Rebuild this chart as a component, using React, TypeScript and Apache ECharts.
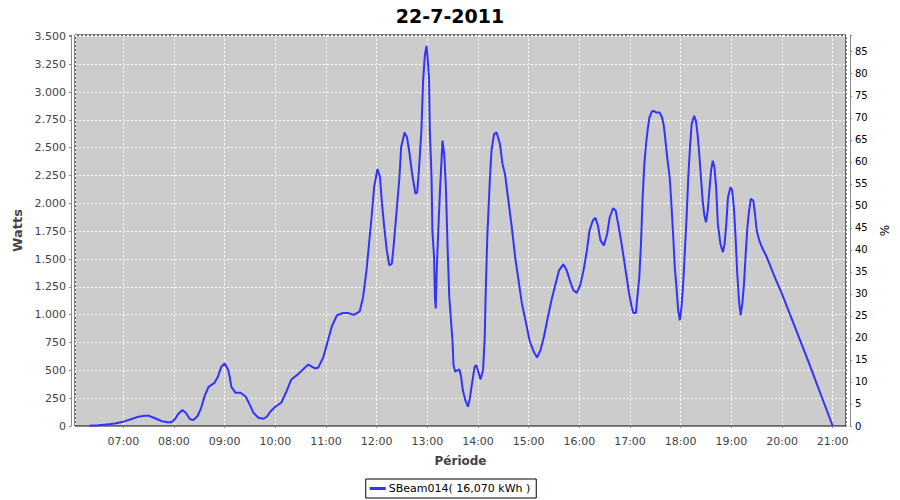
import React, { useEffect, useRef } from "react";
import * as echarts from "echarts";

const title = "22-7-2011";
const seriesName = "SBeam014( 16,070 kWh )";

const times: string[] = [
  "06:20","06:30","06:38","06:45","06:50","07:00","07:10","07:18","07:25","07:30",
  "07:37","07:45","07:52","07:57","08:01","08:05","08:10","08:14","08:19","08:23",
  "08:28","08:32","08:36","08:41","08:48","08:52","08:56","09:00","09:04","09:06",
  "09:08","09:13","09:19","09:25","09:29","09:34","09:40","09:46","09:50","09:54",
  "10:00","10:07","10:13","10:19","10:27","10:33","10:39","10:47","10:51","10:57",
  "11:03","11:07","11:13","11:20","11:26","11:33","11:40","11:44","11:48","11:51",
  "11:54","11:57","12:01","12:04","12:06","12:09","12:12","12:15","12:18","12:20",
  "12:23","12:27","12:29","12:33","12:36","12:39","12:42","12:46","12:48","12:50",
  "12:53","12:55","12:57","12:59","13:00","13:02","13:03","13:05","13:06","13:08",
  "13:09","13:10","13:11","13:13","13:15","13:17","13:18","13:20","13:22","13:24",
  "13:26","13:28","13:30","13:31","13:33","13:36","13:38","13:40","13:42","13:45",
  "13:48","13:50","13:53","13:56","13:58","14:01","14:03","14:06","14:08","14:09",
  "14:11","14:14","14:16","14:19","14:22","14:26","14:29","14:32","14:36","14:40",
  "14:44","14:48","14:52","14:57","15:01","15:06","15:10","15:14","15:18","15:22",
  "15:27","15:32","15:36","15:41","15:45","15:49","15:53","15:57","16:01","16:05",
  "16:09","16:12","16:16","16:19","16:22","16:25","16:29","16:33","16:36","16:40",
  "16:43","16:46","16:50","16:53","16:56","16:59","17:02","17:04","17:07","17:08",
  "17:11","17:13","17:15","17:17","17:19","17:21","17:23","17:26","17:28","17:31",
  "17:35","17:38","17:40","17:42","17:44","17:47","17:49","17:51","17:53","17:55",
  "17:57","17:59","18:01","18:03","18:05","18:07","18:09","18:11","18:13","18:16",
  "18:18","18:20","18:22","18:24","18:26","18:28","18:30","18:32","18:34","18:36",
  "18:38","18:40","18:42","18:44","18:47","18:50","18:52","18:54","18:56","18:59",
  "19:01","19:03","19:05","19:07","19:09","19:11","19:13","19:15","19:17","19:19",
  "19:21","19:23","19:26","19:28","19:30","19:33","19:37","19:41","19:45","19:49",
  "19:53","19:59","20:30","21:00"
];

const watts: number[] = [
  3,6,12,17,22,39,63,84,92,92,
  72,45,33,33,60,107,143,119,60,54,
  90,158,263,352,388,442,531,562,508,442,
  352,298,298,263,203,120,74,65,83,128,
  173,209,307,418,466,510,552,517,526,621,
  786,896,995,1015,1015,998,1030,1159,1398,1637,
  1875,2144,2309,2234,2025,1786,1577,1443,1458,1607,
  1875,2234,2503,2637,2592,2443,2264,2085,2099,2294,
  2652,3100,3324,3414,3339,3130,2652,2234,1756,1517,
  1159,1055,1368,1756,2115,2413,2563,2443,2144,1607,
  1159,950,741,547,487,502,508,442,323,233,
  173,233,383,531,547,472,418,502,800,1159,
  1696,2204,2473,2622,2637,2533,2354,2264,2025,1786,
  1517,1308,1099,920,770,666,615,681,800,950,
  1129,1279,1398,1452,1398,1302,1219,1195,1264,1398,
  1577,1756,1846,1870,1801,1667,1622,1727,1875,1956,
  1935,1816,1637,1487,1338,1189,1069,1015,1015,1099,
  1338,1637,2054,2354,2533,2667,2771,2825,2831,2816,
  2816,2771,2697,2563,2413,2234,1995,1727,1427,1248,
  1039,950,1069,1279,1577,1875,2234,2503,2712,2787,
  2742,2622,2443,2234,2025,1891,1830,1935,2115,2294,
  2383,2323,2144,1816,1637,1562,1637,1816,2054,2144,
  2115,1965,1696,1368,1129,995,1099,1279,1547,1786,
  1935,2040,2025,1906,1756,1667,1592,1532,1458,1383,
  1308,1204,602,0
];

const wattsMax = 3512;
const wattsStep = 250;
const pctMax = 88.8;
const pctStep = 5;

function ts(hm: string, sec = 0): number {
  const [h, m] = hm.split(":").map(Number);
  return Date.UTC(2011, 6, 22, h, m, sec);
}

function fmtThousands(v: number): string {
  return String(Math.round(v)).replace(/\B(?=(\d{3})+(?!\d))/g, ".");
}

function pad(n: number) {
  return n < 10 ? "0" + n : String(n);
}

export default function App() {
  const ref = useRef<HTMLDivElement>(null);
  useEffect(() => {
    if (!ref.current) return;
    const chart = echarts.init(ref.current, undefined, { renderer: "svg" });
    const font = "DejaVu Sans";
    const data = times.map((t, i) => [ts(t), watts[i]]);
    chart.setOption({
      animation: false,
      useUTC: true,
      backgroundColor: "#ffffff",
      title: {
        text: title,
        left: "center",
        top: 6,
        padding: 0,
        textStyle: { fontFamily: font, fontSize: 19, fontWeight: "bold", color: "#000" },
      },
      legend: {
        data: [seriesName],
        bottom: 2,
        left: "center",
        borderColor: "#000",
        borderWidth: 1,
        padding: [4, 6, 4, 4],
        itemWidth: 16,
        itemHeight: 3,
        itemGap: 4,
        icon: "rect",
        textStyle: { fontFamily: font, fontSize: 11, color: "#000", padding: [0, 0, 0, -2] },
      },
      grid: {
        left: 75,
        right: 54,
        top: 35,
        bottom: 74,
        show: true,
        backgroundColor: "#cccccc",
        borderColor: "#000",
        borderWidth: 1,
        containLabel: false,
      },
      xAxis: {
        type: "time",
        min: ts("06:02", 50),
        max: ts("21:15", 45),
        minInterval: 3600 * 1000,
        maxInterval: 3600 * 1000,
        offset: 4,
        name: "Période",
        nameLocation: "middle",
        nameGap: 25,
        nameTextStyle: { fontFamily: font, fontSize: 12, fontWeight: "bold", color: "#444" },
        axisLine: { show: true, lineStyle: { color: "#888", width: 1 } },
        axisTick: { show: true, length: 2, lineStyle: { color: "#888" } },
        axisLabel: {
          fontFamily: font,
          fontSize: 11,
          color: "#444",
          margin: 6,
          showMinLabel: false,
          showMaxLabel: false,
          formatter: (v: number) => {
            const d = new Date(v);
            if (d.getUTCMinutes() !== 0 || d.getUTCSeconds() !== 0) return "";
            return pad(d.getUTCHours()) + ":" + pad(d.getUTCMinutes());
          },
        },
        splitLine: { show: true, lineStyle: { color: "#ffffff", type: [2, 2], width: 1 } },
      },
      yAxis: [
        {
          type: "value",
          min: 0,
          max: wattsMax,
          interval: wattsStep,
          offset: 4,
          name: "Watts",
          nameLocation: "middle",
          nameGap: 44,
          nameTextStyle: { fontFamily: font, fontSize: 13, fontWeight: "bold", color: "#444" },
          axisLine: { show: true, lineStyle: { color: "#888", width: 1 } },
          axisTick: { show: true, length: 2, lineStyle: { color: "#888" } },
          axisLabel: {
            fontFamily: font,
            fontSize: 11,
            color: "#444",
            margin: 5,
            formatter: (v: number) => (v % wattsStep === 0 ? fmtThousands(v) : ""),
          },
          splitLine: { show: true, lineStyle: { color: "#ffffff", type: [2, 2], width: 1 } },
        },
        {
          type: "value",
          min: 0,
          max: pctMax,
          interval: pctStep,
          offset: 4,
          position: "right",
          name: "%",
          nameLocation: "middle",
          nameGap: 25,
          nameTextStyle: { fontFamily: font, fontSize: 12, color: "#000" },
          axisLine: { show: true, lineStyle: { color: "#888", width: 1 } },
          axisTick: { show: true, length: 2, lineStyle: { color: "#888" } },
          axisLabel: {
            fontFamily: font,
            fontSize: 10,
            color: "#000",
            margin: 5,
            formatter: (v: number) => (Math.abs(v % pctStep) < 1e-9 ? String(v) : ""),
          },
          splitLine: { show: false },
        },
      ],
      series: [
        {
          name: seriesName,
          type: "line",
          yAxisIndex: 0,
          data,
          showSymbol: false,
          symbol: "none",
          lineStyle: { color: "#3333ff", width: 2 },
          itemStyle: { color: "#3333ff" },
          z: 3,
        },
      ],
    });
    return () => chart.dispose();
  }, []);
  return (
    <div
      ref={ref}
      style={{ position: "absolute", left: 0, top: 0, width: 900, height: 500 }}
    />
  );
}
